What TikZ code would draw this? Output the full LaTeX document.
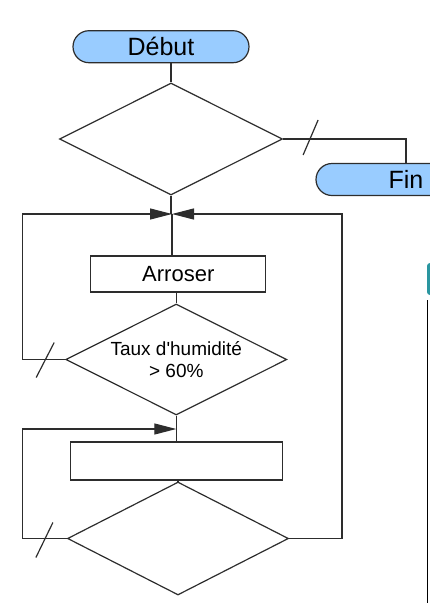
\documentclass[tikz,border=0pt]{standalone}
\usepackage{fontspec}
\setmainfont{Liberation Sans}[Ligatures=TeXOff]
\usetikzlibrary{shapes.geometric,arrows.meta,calc}
\definecolor{termfill}{RGB}{153,204,255}
\definecolor{linegray}{RGB}{45,45,45}
\definecolor{tealbox}{RGB}{42,150,160}

\begin{document}
\begin{tikzpicture}[x=1pt,y=-1pt,line width=1.2pt,color=linegray,text=black,
	term/.style={draw,fill=termfill,rounded corners=16pt,minimum height=32pt,inner sep=0pt,font=\fontsize{25}{30}\selectfont},
	action/.style={draw,rectangle,inner sep=0pt,font=\fontsize{22}{26}\selectfont},
	test/.style={draw,diamond,aspect=2,inner sep=0pt,align=center,font=\fontsize{19}{22}\selectfont},
	flow/.style={-{Triangle[length=22pt,width=11pt]}}]
			\useasboundingbox (0,0) rectangle (430,603);
			\node [term,minimum width=176pt] (debut) at (161,46.7) {Début};
			\node [test,minimum width=223pt,minimum height=112pt] (boucle) at (171,139) {};
			\node [term,minimum width=180pt] (fin) at (406,179.5) {Fin};
			\coordinate (haut) at (172,214);
			\node [action,minimum width=175pt,minimum height=36pt] (arroser) at (178.3,274) {Arroser};
			\node [test,minimum width=221pt,minimum height=111pt] (humidite) at (176.3,359.5) {Taux d'humidité\\> 60\%};
			\coordinate (milieu) at (176.3,429);
			\node [action,minimum width=212pt,minimum height=38pt] (tache) at (176.7,461) {};
			\node [test,minimum width=221pt,minimum height=113pt] (test) at (178,538.5) {};
			\coordinate (gauche) at (22.7,0);
			\coordinate (droite) at (342,0);
			\draw (debut.south -| boucle.north) -- (boucle.north);
			\draw (boucle.east) -| (fin.north);
			\draw (boucle.south) -- (boucle.south |- haut);
			\draw (haut) -- (haut |- arroser.north);
			\draw (arroser.south -| humidite.north) -- (humidite.north);
			\draw [flow] (humidite.west) -- (humidite.west -| gauche) |- (haut);
			\draw [flow] (test.east) -- (test.east -| droite) |- (haut);
			\draw (humidite.south) -- (humidite.south |- tache.north);
			\draw [flow] (test.west) -- (test.west -| gauche) |- (milieu);
			\draw (tache.south -| test.north) -- (test.north);
			\draw ($(boucle.east)+(20,16)$) -- ($(boucle.east)+(35,-19)$);
			\draw ($(humidite.west)+(-29,18)$) -- ($(humidite.west)+(-11,-17)$);
			\draw ($(test.west)+(-31,19)$) -- ($(test.west)+(-14,-16)$);
			\fill [tealbox,rounded corners=3pt] (427,263) rectangle (440,295);
			\draw [line width=1pt,black] (427.7,300) -- (427.7,603);
\end{tikzpicture}
\end{document}
